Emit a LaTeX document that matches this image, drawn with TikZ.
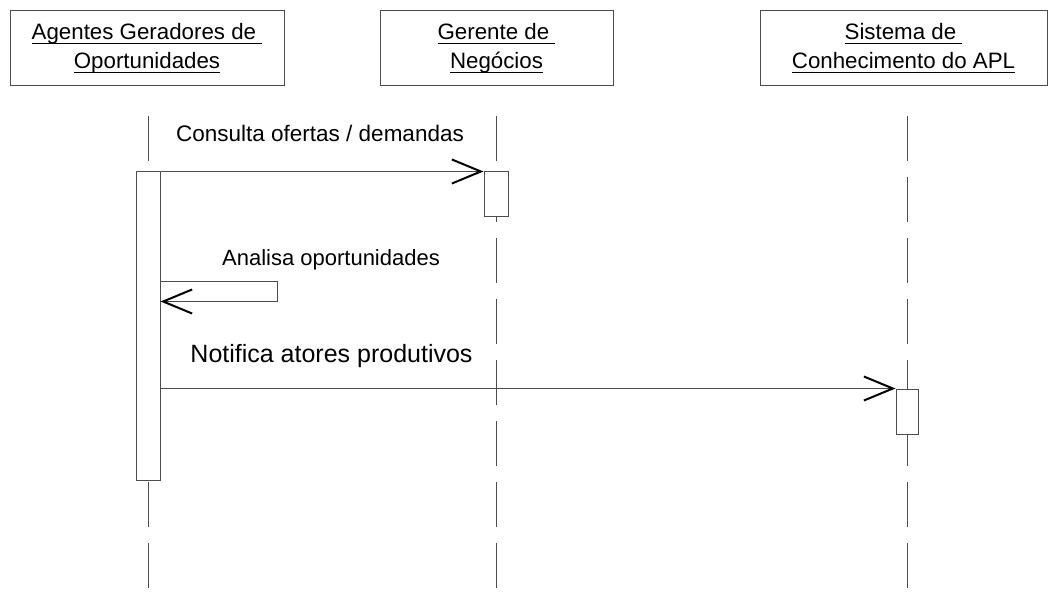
\documentclass[tikz,border=0pt]{standalone}
\usepackage{fontspec}
\setmainfont{Liberation Sans}
\usetikzlibrary{arrows.meta,calc}
\definecolor{linegray}{gray}{0.3}
\newcommand{\hul}[1]{\setbox0\hbox{#1}\rlap{\rule[-4.5pt]{\wd0}{1.3pt}}\box0}
\begin{document}
\begin{tikzpicture}[x=1pt,y=-1pt,
  hdr/.style={draw=linegray, line width=1pt, minimum height=75pt, inner sep=0pt,
    align=center, font=\fontsize{22.3}{29}\selectfont},
  actbox/.style={draw=linegray, line width=1pt, fill=white, minimum width=24pt, inner sep=0pt},
  life/.style={draw=linegray, line width=1pt, dash pattern=on 45pt off 16pt},
  msg/.style={draw=linegray, line width=1pt,
    -{Straight Barb[length=29pt,width=24pt,line width=2pt,color=black]}},
  lbl/.style={font=\fontsize{22}{26}\selectfont, anchor=base, inner sep=0pt}]
\useasboundingbox (0,0) rectangle (1048,604);

% headers
\node[hdr, minimum width=274pt] (h1) at (147,48.5)
  {\hul{Agentes Geradores de\ }\\\hul{Oportunidades}};
\node[hdr, minimum width=233pt] (h2) at (496.5,48.5)
  {\hul{Gerente de\ }\\\hul{Negócios}};
\node[hdr, minimum width=287pt] (h3) at (903.5,48.5)
  {\hul{Sistema de\ }\\\hul{Conhecimento do APL}};

% lifelines
\coordinate (l1t) at (148,116); \coordinate (l1b) at (148,588);
\coordinate (l2t) at (496,116); \coordinate (l2b) at (496,588);
\coordinate (l3t) at (907,116); \coordinate (l3b) at (907,588);
\draw[life] (l1t) -- (l1b);
\draw[life] (l2t) -- (l2b);
\draw[life] (l3t) -- (l3b);

% activations
\node[actbox, minimum height=308pt] (a1) at (148,326) {};
\node[actbox, minimum height=44pt] (a2) at (496,194) {};
\node[actbox, minimum width=22pt, minimum height=45pt] (a3) at (907,411.5) {};

% messages
\draw[msg] (a1.north east) -- (a2.north west);
\coordinate (s1) at ($(a1.north east)+(0,110)$);
\coordinate (s2) at ($(a1.north east)+(117,110)$);
\coordinate (s3) at ($(a1.north east)+(117,130)$);
\coordinate (s4) at ($(a1.north east)+(0,130)$);
\draw[msg] (s1) -- (s2) -- (s3) -- (s4);
\draw[msg] (a1.east |- a3.north west) -- (a3.north west);

% labels
\node[lbl, font=\fontsize{22.5}{26}\selectfont] (m1) at (320,142) {Consulta ofertas / demandas};
\node[lbl] (m2) at (331,265) {Analisa oportunidades};
\node[lbl, font=\fontsize{25}{28}\selectfont] (m3) at (331.5,362) {Notifica atores produtivos};
\end{tikzpicture}
\end{document}
